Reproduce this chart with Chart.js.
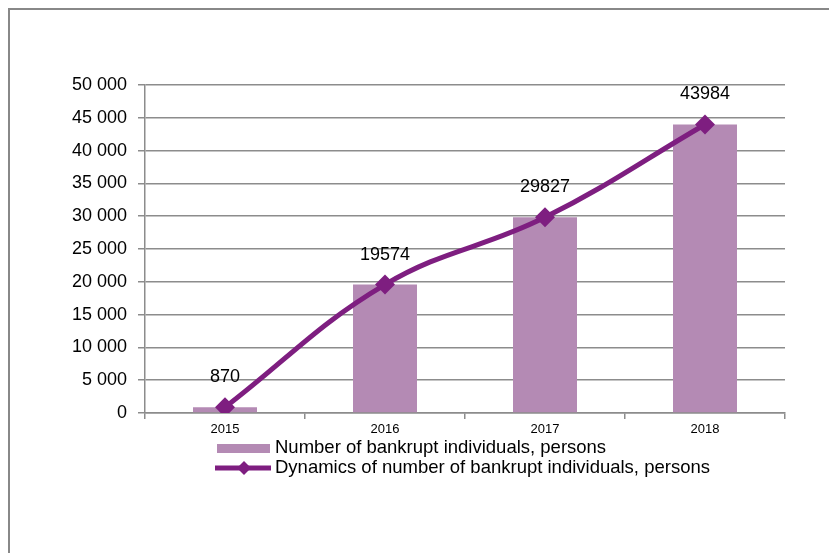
<html lang="en">
<head>
    <meta charset="UTF-8">
    <title>Bankrupt individuals</title>
    <script src="https://cdn.jsdelivr.net/npm/chart.js"></script>
    <style>
        body { margin: 0; background: #fff; }
        canvas { display: block; }
    </style>
</head>
<body>
<canvas id="bankruptChart" width="829" height="553"></canvas>

<script>
    // Data
    const years = ['2015', '2016', '2017', '2018'];
    const bankruptPersons = [870, 19574, 29827, 43984];
    const dynamicsPersons = [870, 19574, 29827, 43984];
    const barLabel = 'Number of bankrupt individuals, persons';
    const lineLabel = 'Dynamics of number of bankrupt individuals, persons';

    const FONT = '"Liberation Sans", Arial, sans-serif';
    const BAR_COLOR = 'rgb(180, 138, 180)';
    const LINE_COLOR = 'rgb(126, 30, 128)';
    const GRID_COLOR = '#8c8c8c';

    function spaceThousands(v) {
        return String(v).replace(/\B(?=(\d{3})+(?!\d))/g, ' ');
    }

    // frame around the chart
    const framePlugin = {
        id: 'frame',
        beforeDraw(chart) {
            const ctx = chart.ctx;
            ctx.save();
            ctx.fillStyle = '#fff';
            ctx.fillRect(0, 0, chart.width, chart.height);
            ctx.strokeStyle = '#888';
            ctx.lineWidth = 2;
            ctx.beginPath();
            ctx.moveTo(9, chart.height + 5);
            ctx.lineTo(9, 9);
            ctx.lineTo(chart.width + 5, 9);
            ctx.stroke();
            ctx.restore();
        }
    };

    // value labels above the line points
    const valueLabels = {
        id: 'valueLabels',
        afterDatasetsDraw(chart) {
            const ctx = chart.ctx;
            const meta = chart.getDatasetMeta(1);
            ctx.save();
            ctx.font = '18px ' + FONT;
            ctx.fillStyle = '#000';
            ctx.textAlign = 'center';
            ctx.textBaseline = 'middle';
            meta.data.forEach((pt, i) => {
                ctx.fillText(String(chart.data.datasets[1].data[i]), pt.x, pt.y - 30);
            });
            ctx.restore();
        }
    };

    // legend under the x axis
    const bottomLegend = {
        id: 'bottomLegend',
        afterDraw(chart) {
            const ctx = chart.ctx;
            ctx.save();
            ctx.fillStyle = BAR_COLOR;
            ctx.fillRect(217, 444, 53, 9);

            ctx.strokeStyle = LINE_COLOR;
            ctx.lineWidth = 5;
            ctx.beginPath();
            ctx.moveTo(215, 468);
            ctx.lineTo(271, 468);
            ctx.stroke();
            ctx.fillStyle = LINE_COLOR;
            ctx.beginPath();
            ctx.moveTo(244, 461);
            ctx.lineTo(251, 468);
            ctx.lineTo(244, 475);
            ctx.lineTo(237, 468);
            ctx.closePath();
            ctx.fill();

            ctx.font = '18.5px ' + FONT;
            ctx.fillStyle = '#000';
            ctx.textAlign = 'left';
            ctx.textBaseline = 'middle';
            ctx.fillText(chart.data.datasets[0].label, 275, 448);
            ctx.fillText(chart.data.datasets[1].label, 275, 468);
            ctx.restore();
        }
    };

    const config = {
        data: {
            labels: years,
            datasets: [{
                type: 'bar',
                label: barLabel,
                data: bankruptPersons,
                backgroundColor: BAR_COLOR,
                barPercentage: 0.4,
                categoryPercentage: 1,
                order: 1
            }, {
                type: 'line',
                label: lineLabel,
                data: dynamicsPersons,
                borderColor: LINE_COLOR,
                backgroundColor: LINE_COLOR,
                borderWidth: 5,
                tension: 0.4,
                pointStyle: 'rectRot',
                pointRadius: 10,
                pointBorderWidth: 0,
                order: 0
            }]
        },
        options: {
            responsive: false,
            animation: false,
            layout: { padding: { top: 85, right: 44, left: 0, bottom: 0 } },
            plugins: {
                legend: { display: false },
                tooltip: { enabled: false }
            },
            scales: {
                x: {
                    offset: true,
                    grid: {
                        offset: true,
                        drawOnChartArea: false,
                        drawTicks: true,
                        tickLength: 6,
                        color: GRID_COLOR,
                        lineWidth: 1.5
                    },
                    border: { display: true, color: GRID_COLOR, width: 1.5 },
                    ticks: {
                        color: '#000',
                        font: { family: FONT, size: 13 },
                        padding: 3
                    },
                    afterFit(scale) { scale.height = 140; }
                },
                y: {
                    min: 0,
                    max: 50000,
                    ticks: {
                        stepSize: 5000,
                        color: '#000',
                        font: { family: FONT, size: 18 },
                        padding: 11,
                        callback: (v) => spaceThousands(v)
                    },
                    grid: {
                        color: GRID_COLOR,
                        lineWidth: 1.5,
                        tickLength: 7
                    },
                    border: { display: true, color: GRID_COLOR, width: 1.5 },
                    afterFit(scale) { scale.width = 145; }
                }
            }
        },
        plugins: [framePlugin, valueLabels, bottomLegend]
    };

    const ctx = document.getElementById('bankruptChart').getContext('2d');
    const chart = new Chart(ctx, config);
</script>
</body>
</html>
